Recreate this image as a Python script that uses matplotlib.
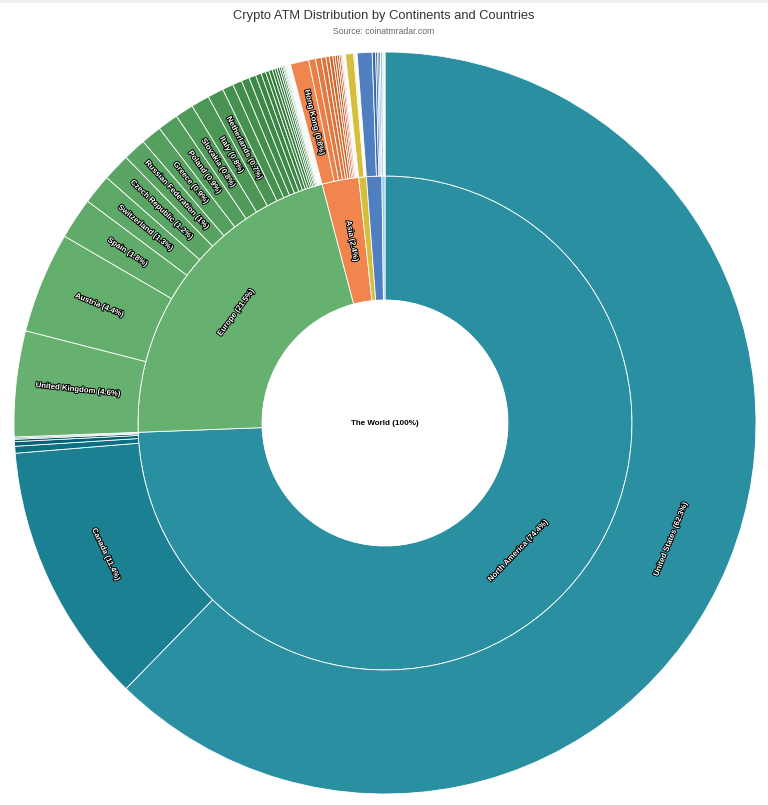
import numpy as np
import matplotlib
matplotlib.use("Agg")
import matplotlib.pyplot as plt
from matplotlib.patches import Wedge, Circle, Rectangle
import matplotlib.patheffects as pe

plt.rcParams['font.family'] = ['Liberation Sans', 'DejaVu Sans']

# data (% of all crypto ATMs)
continents = ['North America', 'Europe', 'Asia', 'South America', 'Oceania', 'Africa']
continent_colors = ['#2a90a1', '#67b170', '#f0854d', '#d4be3c', '#4f7fc0', '#8ecff0']

na_countries = ['United States', 'Canada', 'Mexico', 'El Salvador', 'Puerto Rico',
                'Dominican Republic', 'Panama']
na_values = [62.3, 11.4, 0.3, 0.2, 0.1, 0.05, 0.05]

eu_countries = ['United Kingdom', 'Austria', 'Spain', 'Switzerland', 'Czech Republic',
                'Russian Federation', 'Greece', 'Poland', 'Slovakia', 'Italy', 'Netherlands',
                'Romania', 'Slovenia', 'Ukraine', 'Bulgaria', 'Croatia', 'Portugal',
                'Lithuania', 'France', 'Belgium', 'Hungary', 'Estonia', 'Germany', 'Latvia',
                'Denmark', 'Sweden', 'Finland', 'Ireland', 'Serbia', 'Bosnia and Herzegovina',
                'Montenegro', 'Albania', 'Malta', 'Cyprus', 'Luxembourg', 'Norway', 'Belarus']
eu_values = [4.6, 4.4, 1.8, 1.3, 1.2, 1.0, 0.9, 0.9, 0.8, 0.8, 0.7,
             0.48, 0.4, 0.35, 0.3, 0.25, 0.2, 0.15, 0.15, 0.12, 0.1, 0.1, 0.08, 0.07,
             0.05, 0.05, 0.04, 0.04, 0.03, 0.03, 0.02, 0.02, 0.02, 0.02, 0.01, 0.01, 0.01]

as_countries = ['Hong Kong', 'Georgia', 'Turkey', 'Thailand', 'Israel', 'Vietnam',
                'Singapore', 'Taiwan', 'Japan', 'Philippines', 'United Arab Emirates',
                'India', 'Malaysia', 'South Korea', 'Indonesia', 'Lebanon', 'Kazakhstan']
as_values = [0.8, 0.3, 0.25, 0.2, 0.15, 0.15, 0.1, 0.1, 0.08, 0.07, 0.05,
             0.04, 0.03, 0.02, 0.02, 0.02, 0.02]

sa_countries = ['Colombia', 'Argentina', 'Brazil', 'Ecuador', 'Chile', 'Venezuela',
                'Peru', 'Bolivia']
sa_values = [0.35, 0.05, 0.03, 0.02, 0.02, 0.01, 0.01, 0.01]

oc_countries = ['Australia', 'New Zealand', 'Fiji', 'Vanuatu', 'Papua New Guinea']
oc_values = [0.65, 0.15, 0.08, 0.06, 0.06]

af_countries = ['South Africa', 'Nigeria', 'Kenya', 'Ghana']
af_values = [0.1, 0.05, 0.03, 0.02]

children = [(na_countries, na_values), (eu_countries, eu_values), (as_countries, as_values),
            (sa_countries, sa_values), (oc_countries, oc_values), (af_countries, af_values)]

# geometry in pixels
W, H = 768, 805
cx, cy = 385, H - 423
r0, r1, r2 = 123, 247, 371

fig = plt.figure(figsize=(W / 100, H / 100), dpi=100)
ax = fig.add_axes([0, 0, 1, 1])
ax.set_xlim(0, W)
ax.set_ylim(0, H)
ax.axis('off')

# faint page line at the very top
ax.add_patch(Rectangle((0, H - 3), W, 3, facecolor='#f0f0f0', edgecolor='none'))

total = sum(sum(v) for _, v in children)


def brighten(hexcol, amount):
    rgb = np.array(matplotlib.colors.to_rgb(hexcol)) + amount
    return tuple(np.clip(rgb, 0, 1))


def fmt(v):
    return f"{round(v, 1):g}%"


def put_label(text, start, end, rin, rout):
    frac = (end - start) / total
    mid = (start + end) / 2 / total
    theta = 90 - mid * 360
    rm = (rin + rout) / 2
    arc = frac * 2 * np.pi * rm
    if arc < 13:
        return
    x = cx + rm * np.cos(np.radians(theta))
    y = cy + rm * np.sin(np.radians(theta))
    if frac >= 0.1:
        rot = theta + 90
    else:
        rot = theta
    rot = (rot + 180) % 360 - 180
    if rot > 90:
        rot -= 180
    elif rot <= -90:
        rot += 180
    ax.text(x, y, text, rotation=rot, rotation_mode='anchor', ha='center', va='center',
            fontsize=5.6, fontweight='bold', color='white',
            path_effects=[pe.withStroke(linewidth=1.4, foreground='black')])


def add_wedge(start, end, rin, rout, color):
    t1 = 90 - end / total * 360
    t2 = 90 - start / total * 360
    ax.add_patch(Wedge((cx, cy), rout, t1, t2, width=rout - rin,
                       facecolor=color, edgecolor='white', linewidth=0.6))


pos = 0.0
for name, col, (cnames, cvals) in zip(continents, continent_colors, children):
    csum = sum(cvals)
    add_wedge(pos, pos + csum, r0, r1, col)
    put_label(f"{name} ({fmt(csum)})", pos, pos + csum, r0, r1)
    p = pos
    n = len(cvals)
    for i, (cn, cv) in enumerate(zip(cnames, cvals)):
        add_wedge(p, p + cv, r1, r2, brighten(col, -0.42 * i / n))
        put_label(f"{cn} ({fmt(cv)})", p, p + cv, r1, r2)
        p += cv
    pos += csum

ax.add_patch(Circle((cx, cy), r0, facecolor='white', edgecolor='none'))
ax.text(cx, cy, f"The World ({fmt(total)})", ha='center', va='center',
        fontsize=5.8, fontweight='bold', color='black')

fig.text(0.5, 1 - 16 / H, "Crypto ATM Distribution by Continents and Countries",
         ha='center', va='center', fontsize=9.3, color='#333333')
fig.text(0.5, 1 - 31 / H, "Source: coinatmradar.com", ha='center', va='center',
         fontsize=6.2, color='#666666')

fig.savefig('out.png', dpi=100, facecolor='white')
